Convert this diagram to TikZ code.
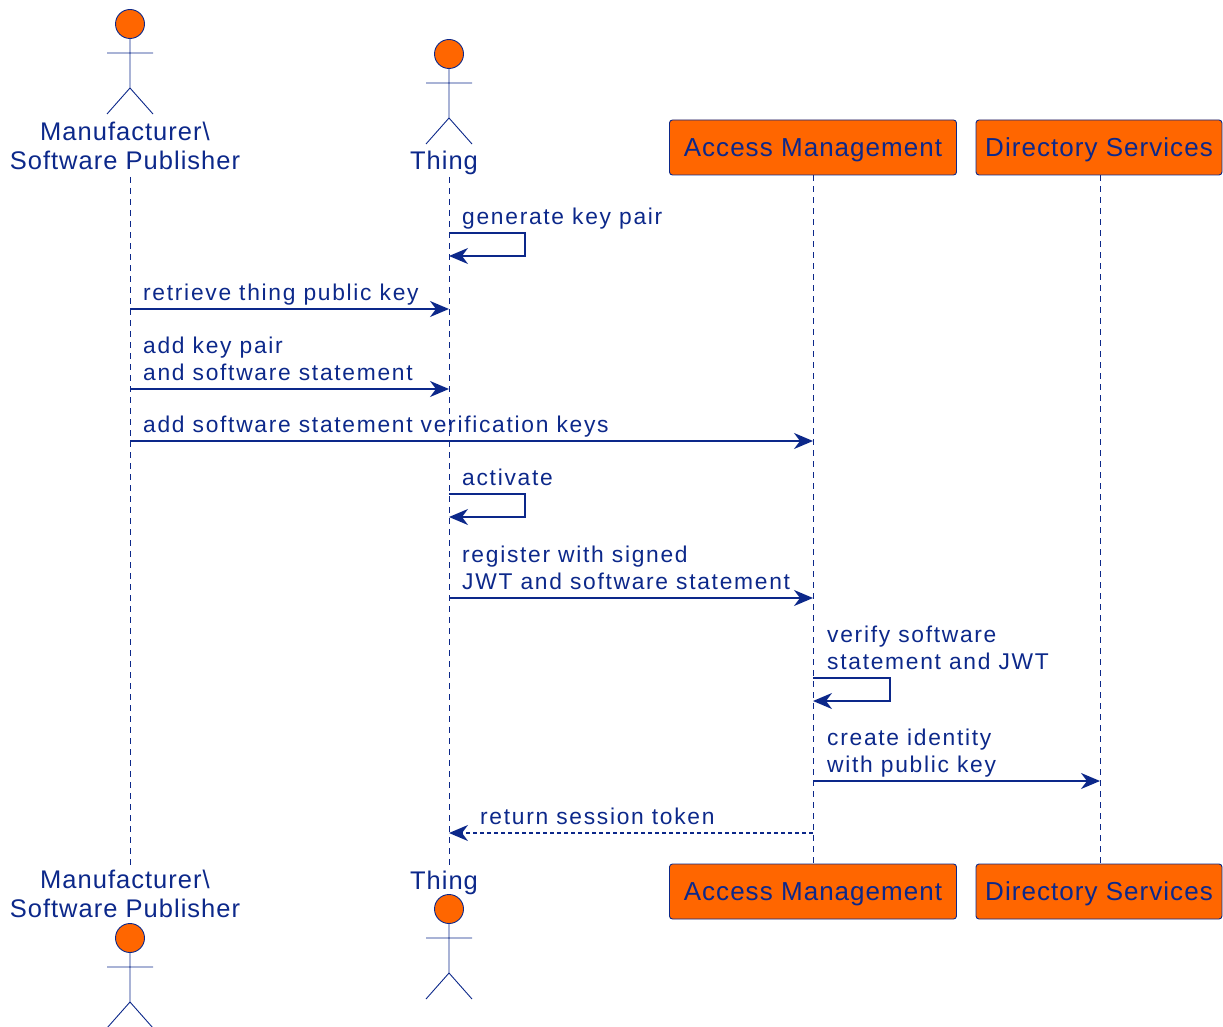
\documentclass[tikz,border=0pt]{standalone}
\usepackage{fontspec}
\setmainfont{Liberation Sans}
\newfontfamily\msgfont[LetterSpace=7.5]{Liberation Sans}
\newfontfamily\partfont[LetterSpace=4]{Liberation Sans}
\newfontfamily\whofont[LetterSpace=4]{Liberation Sans}
\usetikzlibrary{arrows.meta, positioning}
\definecolor{umlblue}{RGB}{12,40,138}
\definecolor{umlorange}{RGB}{255,102,0}

\tikzset{
  part/.style={draw=umlblue, fill=umlorange, rounded corners=3pt, line width=0.9pt,
    minimum height=55pt, minimum width=287pt, text=umlblue,
    text height=19pt, text depth=1pt,
    font=\partfont\fontsize{26}{29}\selectfont},
  who/.style={text=umlblue, align=center, inner sep=0pt, anchor=base,
    font=\whofont\fontsize{25.5}{29}\selectfont},
  lbl/.style={text=umlblue, align=left, inner sep=0pt, anchor=base west,
    font=\msgfont\fontsize{22.8}{27}\selectfont},
  life/.style={draw=umlblue, line width=0.8pt, dash pattern=on 6pt off 5pt},
  msg/.style={draw=umlblue, line width=1.5pt, ->},
  self/.style={draw=umlblue, line width=1.3pt, ->},
  reply/.style={draw=umlblue, line width=1.5pt, dash pattern=on 4pt off 3pt, ->},
  actor/.pic={
    \draw[umlblue, line width=0.9pt, fill=umlorange] (0,0) circle[radius=14.5pt];
    \draw[umlblue, line width=0.9pt] (0,14.5) -- (0,64) (-23,29) -- (23,29)
      (-23,90) -- (0,64) -- (23,90);
  }
}

\begin{document}
\begin{tikzpicture}[x=1pt,y=-1pt,>={Stealth[length=19pt,width=16pt,inset=6pt]}]
\useasboundingbox (0,0) rectangle (1223,1027);

% participants, top and bottom
  \pic at (130,24) {actor};
  \node[who] (mf)  at (125,170) {Manufacturer\textbackslash\\Software Publisher};
  \pic at (449,54) {actor};
  \node[who] (th)  at (444,170) {Thing};
  \node[part] (am) at (813,147.5) {Access Management};
  \node[part, minimum width=246pt] (ds) at (1099,147.5) {Directory Services};

  \node[who] (mfb) at (125,917) {Manufacturer\textbackslash\\Software Publisher};
  \pic at (130,938) {actor};
  \node[who] (thb) at (444,889) {Thing};
  \pic at (449,909) {actor};
  \node[part] (amb) at (813,891.5) {Access Management};
  \node[part, minimum width=246pt] (dsb) at (1099,891.5) {Directory Services};

% lifelines
  \coordinate (mfTop) at (130,177);
  \coordinate (mfBot) at (130,865);
  \coordinate (thTop) at (449,177);
  \coordinate (thBot) at (449,865);
  \draw[life] (mfTop) -- (mfBot);
  \draw[life] (thTop) -- (thBot);
  \draw[life] (am) -- (amb);
  \draw[life] (ds.south -| 1100,0) -- (dsb.north -| 1100,0);

% message ends
  \coordinate (g1) at (449,233);  \coordinate (g2) at (449,256);
  \coordinate (r1) at (130,309);  \coordinate (r2) at (449,309);
  \coordinate (k1) at (130,389);  \coordinate (k2) at (449,389);
  \coordinate (v1) at (130,441);  \coordinate (v2) at (813,441);
  \coordinate (c1) at (449,494);  \coordinate (c2) at (449,517);
  \coordinate (j1) at (449,598);  \coordinate (j2) at (813,598);
  \coordinate (s1) at (813,678);  \coordinate (s2) at (813,701);
  \coordinate (i1) at (813,781);  \coordinate (i2) at (1100,781);
  \coordinate (t1) at (813,833);  \coordinate (t2) at (449,833);

% the messages
  \node[lbl] (lg) at (462,224) {generate key pair};
  \draw[self] (g1) -- ++(76,0) |- (g2);
  \node[lbl] (lr) at (143,300) {retrieve thing public key};
  \draw[msg] (r1) -- (r2);
  \node[lbl] (lk) at (143,380) {add key pair\\and software statement};
  \draw[msg] (k1) -- (k2);
  \node[lbl] (lv) at (143,432) {add software statement verification keys};
  \draw[msg] (v1) -- (v2);
  \node[lbl] (lc) at (462,485) {activate};
  \draw[self] (c1) -- ++(76,0) |- (c2);
  \node[lbl] (lj) at (462,589) {register with signed\\JWT and software statement};
  \draw[msg] (j1) -- (j2);
  \node[lbl] (ls) at (827,669) {verify software\\statement and JWT};
  \draw[self] (s1) -- ++(77,0) |- (s2);
  \node[lbl] (li) at (827,772) {create identity\\with public key};
  \draw[msg] (i1) -- (i2);
  \node[lbl] (lt) at (480,824) {return session token};
  \draw[reply] (t1) -- (t2);

\end{tikzpicture}
\end{document}
